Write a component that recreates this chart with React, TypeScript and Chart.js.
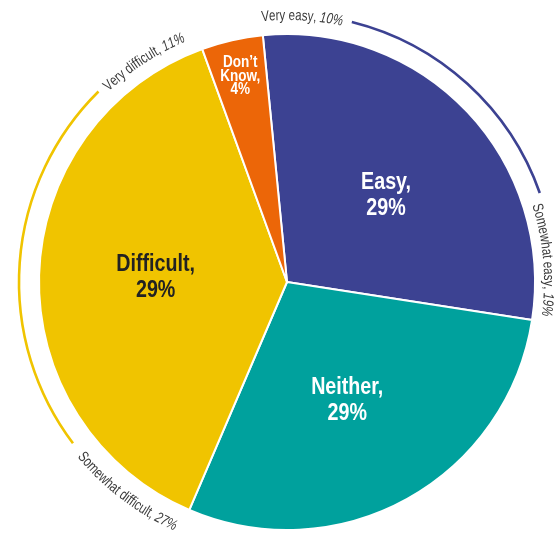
import React, { useEffect, useRef } from "react";
import { Chart, registerables } from "chart.js";

Chart.register(...registerables);

// ---- data ----
const categories = ["Easy", "Neither", "Difficult", "Don't Know"];
const values = [29, 29, 38, 4];
const sliceLabels = [
  ["Easy,", "29%"],
  ["Neither,", "29%"],
  ["Difficult,", "29%"],
  ["Don\u2019t", "Know,", "4%"],
];
const subNames = ["Very easy, ", "Somewhat easy, ", "Very difficult, ", "Somewhat difficult, "];
const subPercents = ["10%", "19%", "11%", "27%"];
const colors = ["#3c4292", "#00a19d", "#f0c400", "#ec6608"];

// ---- styles ----
const FONT = "'Liberation Sans', Arial, sans-serif";
const CONDENSE = 0.82; // horizontal squeeze for slice labels
const CAP_CONDENSE = 0.77; // horizontal squeeze for outer captions
const CAP_SIZE = 15;
const TEXT_GREY = "#3a3a3a";

const labelStyles = [
  { r: 0.53, dAngle: 2.3, size: 24, lh: 26, color: "#ffffff" },
  { r: 0.535, dAngle: 2.0, size: 24, lh: 26, color: "#ffffff" },
  { r: 0.53, dAngle: 0.4, size: 24, lh: 26, color: "#222222" },
  { r: 0.85, dAngle: 0, size: 16.5, lh: 13.5, color: "#ffffff" },
];

// outer curved captions: radius offset from pie edge, centre angle (deg from top, clockwise), glyphs outward?
const captionStyles = [
  { dr: 14, theta: 3.3, outward: true },
  { dr: 9, theta: 85.1, outward: true },
  { dr: 13, theta: -33, outward: true },
  { dr: 25, theta: 217.3, outward: false },
];

// decorative bracket arcs (deg from top, clockwise)
const bracketArcs = [
  { color: 0, from: 14, to: 70.6 },
  { color: 2, from: 233, to: 315.3 },
];

type Part = { text: string; font: string };

function drawArcText(
  ctx: CanvasRenderingContext2D,
  parts: Part[],
  cx: number,
  cy: number,
  r: number,
  thetaDeg: number,
  outward: boolean
) {
  const chars: { ch: string; font: string; w: number }[] = [];
  parts.forEach((p) => {
    ctx.font = p.font;
    for (const ch of p.text) chars.push({ ch, font: p.font, w: ctx.measureText(ch).width * CAP_CONDENSE });
  });
  const total = chars.reduce((s, c) => s + c.w, 0);
  const span = total / r;
  const theta = (thetaDeg * Math.PI) / 180;
  let a = outward ? theta - span / 2 : theta + span / 2;
  for (const c of chars) {
    const half = c.w / 2 / r;
    a = outward ? a + half : a - half;
    ctx.save();
    ctx.translate(cx + r * Math.sin(a), cy - r * Math.cos(a));
    ctx.rotate(outward ? a : a + Math.PI);
    ctx.scale(CAP_CONDENSE, 1);
    ctx.font = c.font;
    ctx.textAlign = "center";
    ctx.textBaseline = "alphabetic";
    ctx.fillText(c.ch, 0, 0);
    ctx.restore();
    a = outward ? a + half : a - half;
  }
}

const labelPlugin = {
  id: "pieLabels",
  afterDatasetsDraw(chart: any) {
    const ctx: CanvasRenderingContext2D = chart.ctx;
    const arcs = chart.getDatasetMeta(0).data;
    if (!arcs.length) return;
    const cx = arcs[0].x;
    const cy = arcs[0].y;
    const R = arcs[0].outerRadius;

    // slice labels
    arcs.forEach((arc: any, i: number) => {
      const st = labelStyles[i];
      const mid = (arc.startAngle + arc.endAngle) / 2 + (st.dAngle * Math.PI) / 180;
      const px = cx + Math.cos(mid) * R * st.r;
      const py = cy + Math.sin(mid) * R * st.r;
      ctx.save();
      ctx.translate(px, py);
      ctx.scale(CONDENSE, 1);
      ctx.font = `bold ${st.size}px ${FONT}`;
      ctx.fillStyle = st.color;
      ctx.textAlign = "center";
      ctx.textBaseline = "middle";
      const lines = sliceLabels[i];
      const total = (lines.length - 1) * st.lh;
      lines.forEach((l, j) => ctx.fillText(l, 0, -total / 2 + j * st.lh));
      ctx.restore();
    });

    // bracket arcs
    bracketArcs.forEach((b) => {
      ctx.save();
      ctx.strokeStyle = colors[b.color];
      ctx.lineWidth = 2.6;
      ctx.lineCap = "butt";
      ctx.beginPath();
      ctx.arc(cx, cy, R + 20, ((b.from - 90) * Math.PI) / 180, ((b.to - 90) * Math.PI) / 180);
      ctx.stroke();
      ctx.restore();
    });

    // curved captions
    ctx.save();
    ctx.fillStyle = TEXT_GREY;
    captionStyles.forEach((c, i) => {
      drawArcText(
        ctx,
        [
          { text: subNames[i], font: `${CAP_SIZE}px ${FONT}` },
          { text: subPercents[i], font: `italic ${CAP_SIZE}px ${FONT}` },
        ],
        cx,
        cy,
        R + c.dr,
        c.theta,
        c.outward
      );
    });
    ctx.restore();
  },
};

export default function App() {
  const ref = useRef<HTMLCanvasElement | null>(null);

  useEffect(() => {
    document.body.style.margin = "0";
    if (!ref.current) return;
    const chart = new Chart(ref.current, {
      type: "pie",
      data: {
        labels: categories,
        datasets: [
          {
            data: values,
            backgroundColor: colors,
            borderColor: "#ffffff",
            borderWidth: 2,
          },
        ],
      },
      options: {
        responsive: false,
        animation: false,
        rotation: -5.6,
        layout: { padding: { left: 38, right: 21, top: 33, bottom: 9 } },
        plugins: {
          legend: { display: false },
          tooltip: { enabled: false },
        },
      },
      plugins: [labelPlugin],
    });
    return () => chart.destroy();
  }, []);

  return (
    <div style={{ width: 557, height: 540, background: "#ffffff" }}>
      <canvas ref={ref} width={557} height={540} style={{ display: "block" }} />
    </div>
  );
}
